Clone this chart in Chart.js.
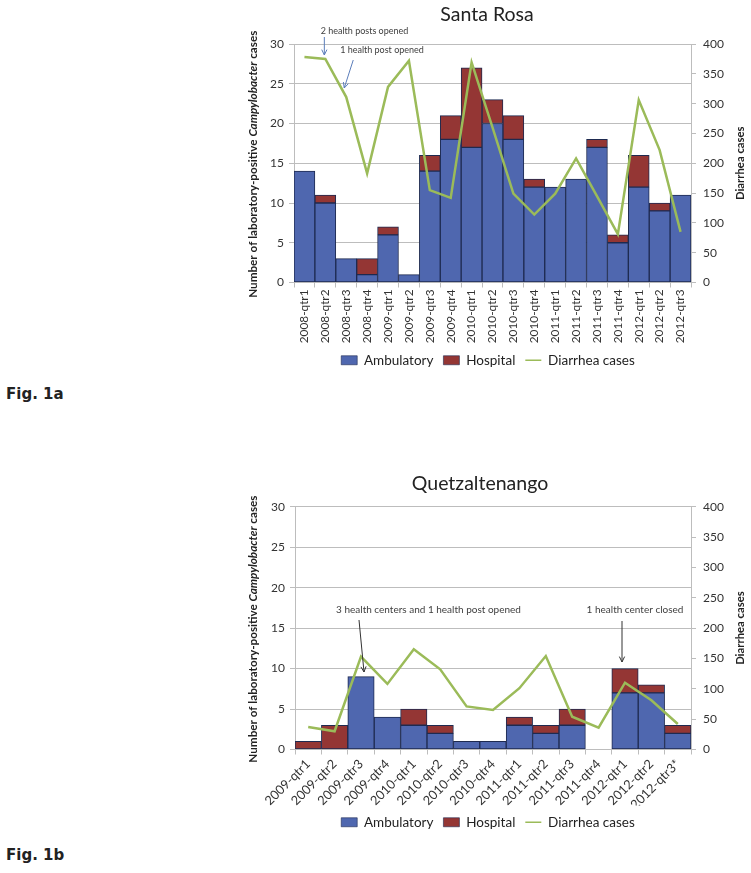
<!DOCTYPE html>
<html><head><meta charset="utf-8">
<script src="https://cdn.jsdelivr.net/npm/chart.js@4.4.1/dist/chart.umd.min.js"></script>
<style>
html,body{margin:0;padding:0;background:#fff;width:751px;height:873px;overflow:hidden;position:relative}
canvas{position:absolute}
.fig{position:absolute;left:6px;font:bold 15px "DejaVu Sans";color:#222;white-space:nowrap}
</style></head><body>
<canvas id="c1" width="526" height="377" style="left:225px;top:0px"></canvas>
<div class="fig" style="top:385px">Fig. 1a</div>
<canvas id="c2" width="526" height="379" style="left:225px;top:460px"></canvas>
<div class="fig" style="top:846px">Fig. 1b</div>
<script>
// ---- Data: Santa Rosa ----
const santaRosaLabels = ['2008-qtr1','2008-qtr2','2008-qtr3','2008-qtr4','2009-qtr1','2009-qtr2','2009-qtr3','2009-qtr4','2010-qtr1','2010-qtr2','2010-qtr3','2010-qtr4','2011-qtr1','2011-qtr2','2011-qtr3','2011-qtr4','2012-qtr1','2012-qtr2','2012-qtr3'];
const santaRosaAmbulatory = [14,10,3,1,6,1,14,18,17,20,18,12,12,13,17,5,12,9,11];
const santaRosaHospital   = [0,1,0,2,1,0,2,3,10,3,3,1,0,0,1,1,4,1,0];
const santaRosaDiarrhea   = [378,375,311,183,328,372,155,142,369,260,149,114,149,208,145,81,306,222,85];

// ---- Data: Quetzaltenango ----
const quetzLabels = ['2009-qtr1','2009-qtr2','2009-qtr3','2009-qtr4','2010-qtr1','2010-qtr2','2010-qtr3','2010-qtr4','2011-qtr1','2011-qtr2','2011-qtr3','2011-qtr4','2012-qtr1','2012-qtr2','2012-qtr3*'];
const quetzAmbulatory = [0,0,9,4,3,2,1,1,3,2,3,0,7,7,2];
const quetzHospital   = [1,3,0,0,2,1,0,0,1,1,2,0,3,1,1];
const quetzDiarrhea   = [37,30,153,108,165,132,71,65,101,154,54,36,110,81,42];

const leftTicks = [0,5,10,15,20,25,30];
const rightTicks = [0,50,100,150,200,250,300,350,400];
const seriesNames = ['Ambulatory','Hospital','Diarrhea cases'];

Chart.defaults.font.family = 'Lato';
Chart.defaults.color = '#333';

const BLUE = '#4F67AF', RED = '#943634', GREEN = '#9BBB59', EDGE = '#1E2A50', GRID = '#BDBDBD';

function arrow(ctx, x1, y1, x2, y2, color) {
  ctx.save();
  ctx.strokeStyle = color; ctx.lineWidth = 1;
  ctx.beginPath(); ctx.moveTo(x1, y1); ctx.lineTo(x2, y2); ctx.stroke();
  const a = Math.atan2(y2 - y1, x2 - x1), L = 6, s = 0.45;
  ctx.beginPath();
  ctx.moveTo(x2 - L * Math.cos(a - s), y2 - L * Math.sin(a - s));
  ctx.lineTo(x2, y2);
  ctx.lineTo(x2 - L * Math.cos(a + s), y2 - L * Math.sin(a + s));
  ctx.stroke();
  ctx.restore();
}

function vText(ctx, x, y, parts) {
  ctx.save();
  ctx.translate(x, y); ctx.rotate(-Math.PI / 2);
  let w = 0;
  parts.forEach(p => { ctx.font = p.font; p.w = ctx.measureText(p.t).width; w += p.w; });
  let cx = -w / 2;
  ctx.textAlign = 'left'; ctx.textBaseline = 'middle'; ctx.fillStyle = '#222';
  parts.forEach(p => { ctx.font = p.font; ctx.fillText(p.t, cx, 0); cx += p.w; });
  ctx.restore();
}

function decoPlugin(cfg) {
  return {
    id: 'deco',
    afterDraw(chart) {
      const ctx = chart.ctx, ca = chart.chartArea, xs = chart.scales.x;
      const ox = cfg.ox, oy = cfg.oy;
      const midY = (ca.top + ca.bottom) / 2;
      ctx.save();
      ctx.fillStyle = '#222';
      ctx.font = '19.5px Lato';
      ctx.textAlign = 'center'; ctx.textBaseline = 'middle';
      ctx.fillText(cfg.title, cfg.titleX - ox, cfg.titleY - oy);
      vText(ctx, 253 - ox, midY + 1, [
        {t: 'Number of laboratory-positive ', font: 'bold 11.7px Lato'},
        {t: 'Campylobacter', font: 'italic bold 11.7px Lato'},
        {t: ' cases', font: 'bold 11.7px Lato'}
      ]);
      vText(ctx, 740 - ox, midY, [{t: 'Diarrhea cases', font: 'bold 11.3px Lato'}]);
      cfg.notes.forEach(n => {
        ctx.font = n.font; ctx.fillStyle = '#404040';
        ctx.textAlign = 'center'; ctx.textBaseline = 'middle';
        ctx.fillText(n.text, n.tx - ox, n.ty - oy);
        const cx = xs.getPixelForValue(n.idx);
        arrow(ctx, cx + n.dx1, n.y1 - oy, cx + n.dx2, n.y2 - oy, n.color);
      });
      ctx.restore();
    }
  };
}

function makeChart(id, labels, amb, hosp, diar, opt) {
  const legendGen = (chart) => {
    const items = Chart.defaults.plugins.legend.labels.generateLabels(chart);
    items.forEach(it => {
      if (it.datasetIndex === 2) { it.pointStyle = 'line'; it.lineWidth = 1.5; }
      else { it.pointStyle = 'rect'; it.lineWidth = 0.6; }
    });
    return items;
  };
  return new Chart(document.getElementById(id), {
    data: {
      labels: labels,
      datasets: [
        {type: 'bar', label: seriesNames[0], data: amb, backgroundColor: BLUE, borderColor: EDGE, borderWidth: 1, borderSkipped: false, yAxisID: 'y', order: 2, barPercentage: 1, categoryPercentage: 1},
        {type: 'bar', label: seriesNames[1], data: hosp, backgroundColor: RED, borderColor: EDGE, borderWidth: 1, borderSkipped: false, yAxisID: 'y', order: 2, barPercentage: 1, categoryPercentage: 1},
        {type: 'line', label: seriesNames[2], data: diar, borderColor: GREEN, backgroundColor: GREEN, borderWidth: 2.5, pointRadius: 0, tension: 0, yAxisID: 'y1', order: 1}
      ]
    },
    options: {
      responsive: false, animation: false, events: [], devicePixelRatio: 1,
      layout: {padding: {top: opt.padTop, left: 0, right: 0, bottom: 0}},
      plugins: {
        title: {display: false}, tooltip: {enabled: false},
        legend: {
          position: 'bottom',
          labels: {usePointStyle: true, pointStyleWidth: 16, boxHeight: 9, padding: 10, color: '#222', font: {size: 13.5},
            sort: (a, b) => a.datasetIndex - b.datasetIndex, generateLabels: legendGen}
        }
      },
      scales: {
        x: {
          stacked: true, offset: true,
          grid: {offset: true, drawOnChartArea: false, drawTicks: true, tickLength: 5, color: GRID},
          border: {color: GRID},
          ticks: {autoSkip: false, minRotation: opt.rot, maxRotation: opt.rot, font: {size: opt.xFont}, color: '#333', padding: 2},
          afterFit: s => { s.height = opt.xH; }
        },
        y: {
          stacked: true, min: 0, max: 30,
          afterBuildTicks: s => { s.ticks = leftTicks.map(v => ({value: v})); },
          grid: {color: GRID, tickLength: 5},
          border: {color: GRID},
          ticks: {font: {size: 12}, color: '#333', padding: 5},
          afterFit: s => { s.width = opt.leftW; }
        },
        y1: {
          position: 'right', min: 0, max: 400,
          afterBuildTicks: s => { s.ticks = rightTicks.map(v => ({value: v})); },
          grid: {drawOnChartArea: false, tickLength: 5, color: GRID},
          border: {color: GRID},
          ticks: {font: {size: 12}, color: '#333', padding: 7},
          afterFit: s => { s.width = opt.rightW; }
        }
      }
    },
    plugins: [decoPlugin(opt.deco)]
  });
}

makeChart('c1', santaRosaLabels, santaRosaAmbulatory, santaRosaHospital, santaRosaDiarrhea, {
  padTop: 44, leftW: 294 - 225, rightW: 751 - 691, xH: 61, rot: 90, xFont: 11.8,
  deco: {ox: 225, oy: 0, title: 'Santa Rosa', titleX: 487, titleY: 15,
    notes: [
      {text: '2 health posts opened', font: '9px Lato', tx: 364.5, ty: 31, idx: 1, dx1: -1, y1: 37, dx2: -1, y2: 55, color: '#5B7DBA'},
      {text: '1 health post opened', font: '9px Lato', tx: 382, ty: 50, idx: 2, dx1: 7, y1: 60, dx2: -2, y2: 88, color: '#5B7DBA'}
    ]}
});

makeChart('c2', quetzLabels, quetzAmbulatory, quetzHospital, quetzDiarrhea, {
  padTop: 46.7, leftW: 295 - 225, rightW: 751 - 691, xH: 56, rot: 45, xFont: 12.8,
  deco: {ox: 225, oy: 460, title: 'Quetzaltenango', titleX: 480, titleY: 484,
    notes: [
      {text: '3 health centers and 1 health post opened', font: '10px Lato', tx: 428.5, ty: 610, idx: 2, dx1: -2, y1: 620, dx2: 3, y2: 672, color: '#333'},
      {text: '1 health center closed', font: '10px Lato', tx: 635, ty: 610, idx: 12, dx1: -3, y1: 621, dx2: -3, y2: 662, color: '#333'}
    ]}
});
</script>
</body></html>
